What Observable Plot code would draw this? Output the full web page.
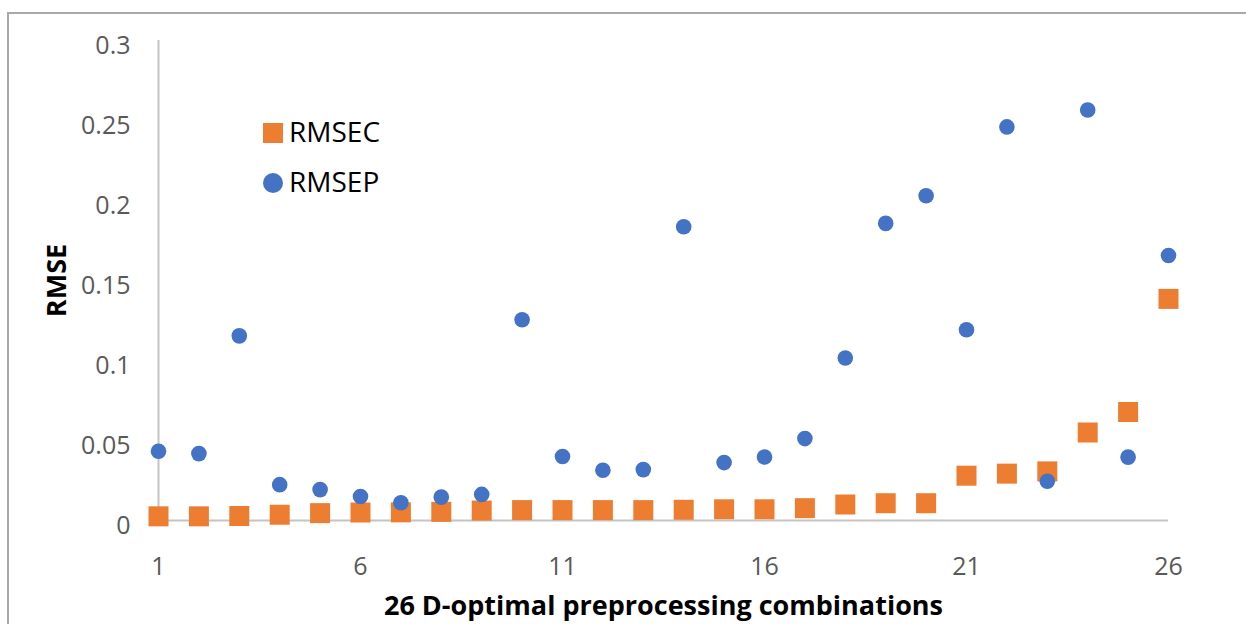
<!DOCTYPE html>
<html>
<head>
<meta charset="utf-8">
<script src="https://cdn.jsdelivr.net/npm/d3@7"></script>
<script src="https://cdn.jsdelivr.net/npm/@observablehq/plot@0.6"></script>
<style>
  html, body { margin: 0; padding: 0; background: #fff; }
  #wrap { position: relative; width: 1246px; height: 624px; overflow: hidden; font-family: "Open Sans", sans-serif; }
  #frame { position: absolute; left: 7px; top: 12px; width: 1400px; height: 800px;
           border-left: 2px solid #a9a9a9; border-top: 2px solid #a9a9a9; box-sizing: border-box; }
  #chart { position: absolute; left: 0; top: 0; }
  .legend { position: absolute; left: 263px; top: 108px; font-size: 28px; color: #000; }
  .legend .item { display: flex; align-items: center; height: 50px; }
  .legend .sw { width: 20px; height: 20px; margin-right: 6px; flex: none; }
  .legend .txt { line-height: 1; position: relative; top: -2px; }
</style>
</head>
<body>
<div id="wrap">
  <div id="frame"></div>
  <div id="chart"></div>
  <div class="legend" id="legend"></div>
</div>
<script>
// 26 D-optimal preprocessing combinations
const combos = d3.range(1, 27);

// Calibration error per combination
const rmsec = [0.0026, 0.0026, 0.0028, 0.0036, 0.0046, 0.0050, 0.0051, 0.0054, 0.0062, 0.0065,
               0.0065, 0.0065, 0.0065, 0.0067, 0.0070, 0.0070, 0.0077, 0.0100, 0.0108, 0.0108,
               0.0280, 0.0293, 0.0307, 0.0550, 0.0678, 0.1385];

// Prediction error per combination
const rmsep = [0.0433, 0.0418, 0.1154, 0.0224, 0.0193, 0.0150, 0.0111, 0.0146, 0.0163, 0.1255,
               0.0400, 0.0314, 0.0318, 0.1836, 0.0362, 0.0397, 0.0512, 0.1016, 0.1857, 0.2030,
               0.1192, 0.2460, 0.0245, 0.2566, 0.0396, 0.1656];

const seriesNames = ["RMSEC", "RMSEP"];
const seriesColors = ["#ED7D31", "#4472C4"];

const xTicks = [1, 6, 11, 16, 21, 26];
const yTicks = [0, 0.05, 0.1, 0.15, 0.2, 0.25, 0.3];
const yTickLabels = ["0", "0.05", "0.1", "0.15", "0.2", "0.25", "0.3"];

const xTitle = "26 D-optimal preprocessing combinations";
const yTitle = "RMSE";

const calib = combos.map((c, i) => ({combo: c, value: rmsec[i]}));
const pred = combos.map((c, i) => ({combo: c, value: rmsep[i]}));

const axisColor = "#c4c4c4";
const tickColor = "#595959";

const chart = Plot.plot({
  width: 1246,
  height: 624,
  marginLeft: 158,
  marginRight: 78,
  marginTop: 40,
  marginBottom: 104,
  style: {fontFamily: "Open Sans, sans-serif", fontSize: "25px", background: "transparent", overflow: "visible"},
  x: {domain: [1, 26], axis: null},
  y: {domain: [0, 0.3], axis: null},
  marks: [
    // axis lines
    Plot.ruleX([1], {y1: 0, y2: 0.3, stroke: axisColor, strokeWidth: 2}),
    Plot.ruleY([0], {x1: 1, x2: 26, stroke: axisColor, strokeWidth: 2}),
    // tick labels
    Plot.text(yTicks, {
      y: d => d, text: (d, i) => yTickLabels[i], frameAnchor: "left",
      textAnchor: "end", dx: -28, dy: 5, fill: tickColor, fontSize: 25
    }),
    Plot.text(xTicks, {
      x: d => d, text: d => String(d), frameAnchor: "bottom",
      dy: 46, lineAnchor: "middle", fill: tickColor, fontSize: 25
    }),
    // axis titles
    Plot.text([yTitle], {
      frameAnchor: "left", dx: -101, rotate: -90, textAnchor: "middle",
      lineAnchor: "middle", fontWeight: "bold", fontSize: 27, fill: "#000"
    }),
    Plot.text([xTitle], {
      frameAnchor: "bottom", dy: 86, textAnchor: "middle", lineAnchor: "middle",
      fontWeight: "bold", fontSize: 27, fill: "#000"
    }),
    // series
    Plot.dot(calib, {x: "combo", y: "value", symbol: "square", r: 20 / Math.sqrt(Math.PI), fill: seriesColors[0], stroke: "none"}),
    Plot.dot(pred, {x: "combo", y: "value", symbol: "circle", r: 7.8, fill: seriesColors[1], stroke: "none"})
  ]
});
document.getElementById("chart").appendChild(chart);

// legend
const legend = d3.select("#legend");
seriesNames.forEach((name, i) => {
  const item = legend.append("div").attr("class", "item");
  item.append("div").attr("class", "sw")
    .style("background", seriesColors[i])
    .style("border-radius", i === 1 ? "50%" : "0");
  item.append("div").attr("class", "txt").text(name);
});
</script>
</body>
</html>
